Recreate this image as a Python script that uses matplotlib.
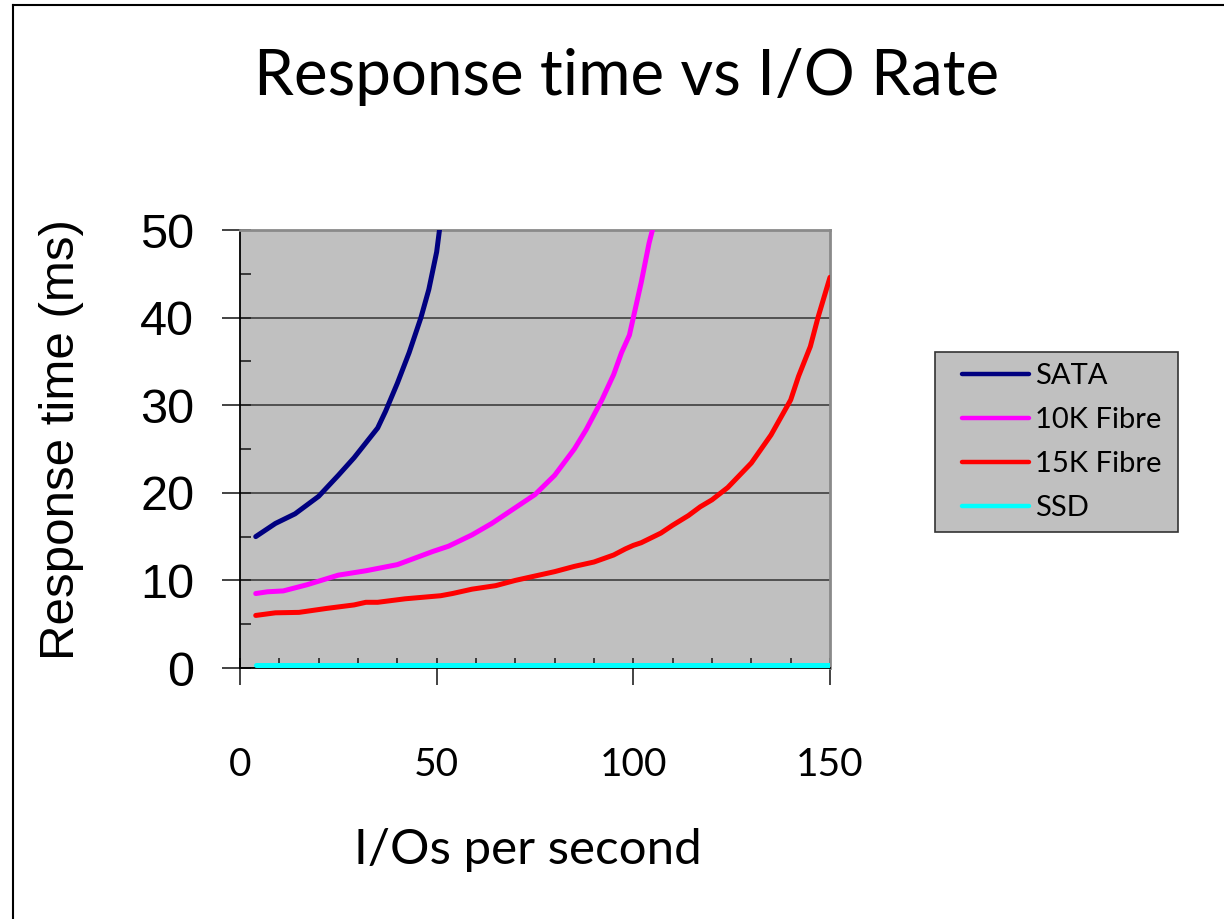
import matplotlib
matplotlib.use('Agg')
import matplotlib.pyplot as plt
from matplotlib.ticker import MultipleLocator
from matplotlib.lines import Line2D
from matplotlib.patches import Rectangle

# values
sata_x = [4, 9, 14, 20, 25, 29, 32, 35, 37, 40, 43, 46, 48, 50, 51]
sata_y = [15.0, 16.5, 17.6, 19.6, 22.0, 24.0, 25.7, 27.4, 29.3, 32.5, 36.0, 40.0, 43.2, 47.5, 51.0]

fibre10_x = [4, 7, 11, 17, 25, 32, 40, 49, 53, 59, 64, 70, 75, 80, 85, 88, 92, 95, 97, 99, 100, 102, 104, 106]
fibre10_y = [8.5, 8.7, 8.8, 9.5, 10.6, 11.1, 11.8, 13.3, 13.9, 15.2, 16.5, 18.3, 19.8, 22.0, 25.0, 27.2, 30.6,
             33.5, 36.0, 38.0, 40.0, 44.0, 48.5, 52.0]

fibre15_x = [4, 9, 15, 22, 29, 32, 35, 42, 51, 54, 59, 65, 70, 74, 80, 85, 90, 95, 98, 100, 102, 107, 110, 114,
             117, 120, 124, 127, 130, 135, 140, 142, 145, 147, 150]
fibre15_y = [6.0, 6.3, 6.35, 6.8, 7.2, 7.5, 7.5, 7.9, 8.25, 8.5, 9.0, 9.4, 10.0, 10.4, 11.0, 11.6, 12.1, 12.9,
             13.6, 14.0, 14.3, 15.4, 16.3, 17.4, 18.4, 19.2, 20.6, 22.0, 23.4, 26.6, 30.6, 33.3, 36.7, 40.1, 44.6]

ssd_x = [4, 25, 50, 75, 100, 125, 150]
ssd_y = [0.3, 0.3, 0.3, 0.3, 0.3, 0.3, 0.3]

series_names = ['SATA', '10K Fibre', '15K Fibre', 'SSD']
series_colors = ['#000080', '#FF00FF', '#FF0000', '#00FFFF']

x_ticks = [0, 50, 100, 150]
y_ticks = [0, 10, 20, 30, 40, 50]

W, H = 1224, 919
fig = plt.figure(figsize=(W / 100, H / 100), dpi=100)
fig.patch.set_facecolor('white')

ax = fig.add_axes([240 / W, 1 - 668 / H, (830 - 240) / W, (668 - 230) / H])
ax.set_facecolor('#C0C0C0')

data = [(sata_x, sata_y), (fibre10_x, fibre10_y), (fibre15_x, fibre15_y), (ssd_x, ssd_y)]
for (xs, ys), name, col in zip(data, series_names, series_colors):
    ax.plot(xs, ys, color=col, lw=3.6, label=name, solid_capstyle='round', zorder=3)

ax.set_xlim(0, 150)
ax.set_ylim(0, 50)

ax.set_yticks(y_ticks)
ax.yaxis.set_minor_locator(MultipleLocator(5))
ax.set_xticks(x_ticks)
ax.xaxis.set_minor_locator(MultipleLocator(10))
ax.xaxis.remove_overlapping_locs = False
ax.yaxis.remove_overlapping_locs = False

ax.grid(axis='y', which='major', color='#333333', lw=1.1, zorder=1)
ax.set_axisbelow(True)

ax.tick_params(axis='y', which='major', direction='out', length=13, width=1.2, color='#222222', pad=20)
ax.tick_params(axis='y', which='minor', direction='in', length=8, width=1.2, color='#222222')
ax.tick_params(axis='x', which='major', direction='out', length=12, width=1.2, color='#222222', pad=45)
ax.tick_params(axis='x', which='minor', direction='in', length=7, width=1.2, color='#222222')

for lab in ax.get_yticklabels():
    lab.set_fontfamily('Liberation Sans')
    lab.set_fontsize(35)
for lab in ax.get_xticklabels():
    lab.set_fontfamily('Lato')
    lab.set_fontsize(28)

ax.spines['left'].set_color('black')
ax.spines['left'].set_linewidth(1.3)
ax.spines['bottom'].set_color('black')
ax.spines['bottom'].set_linewidth(1.3)
ax.spines['top'].set_color('#8a8a8a')
ax.spines['top'].set_linewidth(2)
ax.spines['right'].set_color('#8a8a8a')
ax.spines['right'].set_linewidth(2)

fig.text(627 / W, 1 - 77 / H, 'Response time vs I/O Rate', ha='center', va='center',
         fontfamily='Lato', fontsize=45.8)
fig.text(62 / W, 1 - 440 / H, 'Response time (ms)', ha='center', va='center', rotation=90,
         fontfamily='Liberation Sans', fontsize=35.5)
fig.text(528 / W, 1 - 850 / H, 'I/Os per second', ha='center', va='center',
         fontfamily='Lato', fontsize=35.5)

# legend box drawn separately so the inner padding matches
fig.add_artist(Rectangle((935 / W, 1 - 532 / H), (1178 - 935) / W, (532 - 352) / H,
                         transform=fig.transFigure, facecolor='#C0C0C0', edgecolor='#333333',
                         lw=1.2, zorder=-1))
leg = ax.legend(loc='center left', bbox_to_anchor=(962 / W, 1 - 442 / H), bbox_transform=fig.transFigure,
                frameon=False, prop={'family': 'Lato', 'size': 21}, handlelength=2.3,
                handletextpad=0.2, labelspacing=0.62, borderpad=0, borderaxespad=0)
for h in leg.get_lines():
    h.set_linewidth(3.2)

# outer border (top and left edges visible in the reference)
fig.add_artist(Line2D([13 / W, 1], [1 - 5 / H, 1 - 5 / H], transform=fig.transFigure, color='black', lw=1.5))
fig.add_artist(Line2D([13 / W, 13 / W], [0, 1 - 5 / H], transform=fig.transFigure, color='black', lw=1.5))

fig.savefig('out.png', dpi=100)
